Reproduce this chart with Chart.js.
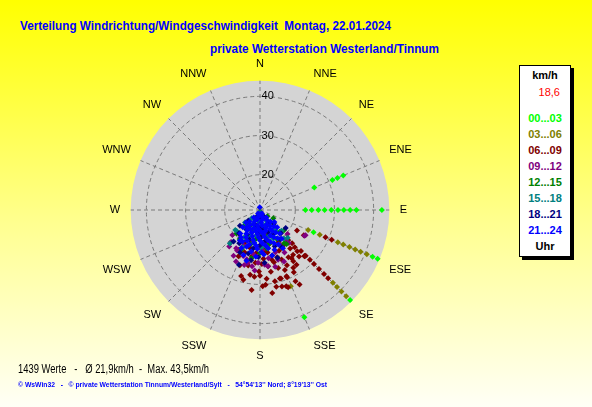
<!DOCTYPE html>
<html><head><meta charset="utf-8">
<script src="https://cdn.jsdelivr.net/npm/chart.js@4.4.1/dist/chart.umd.min.js"></script>
<style>
html,body{margin:0;padding:0;}
body{width:592px;height:407px;overflow:hidden;position:relative;background:linear-gradient(180deg,#ffff00 0%,#ffff90 55%,#fffff6 100%);font-family:'Liberation Sans',Arial,sans-serif;}
.t{position:absolute;white-space:pre;line-height:1;}
.fit{display:inline-block;transform-origin:0 0;}
#wrap{position:absolute;left:92px;top:54px;width:330px;height:312px;}
#legend{position:absolute;left:519px;top:65px;width:50px;height:190px;background:#fff;border:1px solid #000;box-shadow:3px 3px 0 #000;}
.lg{position:absolute;left:0;width:50px;text-align:center;font-weight:bold;font-size:11px;line-height:12px;white-space:pre;}
</style></head><body>
<div class="t" id="title1" style="left:20px;top:19px;font-size:13px;font-weight:bold;color:#0000ff;"><span class="fit" data-w="371">Verteilung Windrichtung/Windgeschwindigkeit  Montag, 22.01.2024</span></div>
<div class="t" id="title2" style="left:210px;top:42px;font-size:13px;font-weight:bold;color:#0000ff;"><span class="fit" data-w="229">private Wetterstation Westerland/Tinnum</span></div>
<div id="wrap"><canvas id="c"></canvas></div>
<div id="legend"></div>
<div class="t" style="left:18px;top:363px;font-size:12px;color:#000;"><span class="fit" data-w="191">1439 Werte   -   Ø 21,9km/h  -  Max. 43,5km/h</span></div>
<div class="t" style="left:18px;top:381px;font-size:8px;font-weight:bold;color:#0000ff;"><span class="fit" data-w="309">© WsWin32   -   © private Wetterstation Tinnum/Westerland/Sylt   -   54°54'13'' Nord; 8°19'13'' Ost</span></div>
<script>
// ---- data ----
const DIRECTIONS = ['N','NNE','NE','ENE','E','ESE','SE','SSE','S','SSW','SW','WSW','W','WNW','NW','NNW'];
const RMIN = 11, RMAX = 44;
const RING_TICKS = [20, 30, 40];
const UNIT = 'km/h';
const CURRENT = '18,6';
const SERIES_NAMES = ['00...03','03...06','06...09','09...12','12...15','15...18','18...21','21...24'];
const SERIES_COLORS = ['#00ff00','#808000','#800000','#800080','#008000','#008080','#000080','#0000ff'];

const DIR_00_03 = [90,90,90,90,90,90,90,90,90,90,67.5,67.5,67.5,67.5,112.5,112.5,112.5,135,157.5];
const KMH_00_03 = [22.6,24.2,25.9,27.5,29.2,30.9,32.4,34.0,35.6,42.1,26.0,31.0,32.4,34.0,25.8,42.1,43.5,43.5,40.6];

const DIR_03_06 = [112.5,112.5,112.5,112.5,112.5,112.5,112.5,112.5,135,135,135,135,158];
const KMH_03_06 = [24.3,27.5,32.5,34.0,35.7,37.3,38.8,40.5,37.3,38.8,40.4,42.1,32.0];

const DIR_06_09 = [119,120,112.5,112.5,136,137,138,135,136,135,135,135,135,135,135,
  137,146,143.5,149,156.5,147,154,151.5,163,158,153.5,161,164,146.7,146.3,136,
  193.4,184.8,181,174.5,175.7,171.6,163.8,160,158.2,157.5,162.6,171.7,166.8,178,176,188.7,168.2,180,
  165,180,195,170,155,190,185,200,160,208,205,
  150,175,205,185,165,200,192,170,150,140,178,186,168,152,196,142];
const KMH_06_09 = [21.8,23.9,29.1,30.8,22.8,24.0,25.2,25.8,27.3,27.5,29.0,30.5,32.3,34.1,35.6,
  21.5,21.8,25.2,25.1,24.8,26.6,26.7,29.1,29.3,29.5,31.3,31.6,31.3,25.7,27.8,27.4,
  29.3,28.1,26.7,28.6,30.1,32.4,29.2,32.0,29.2,27.6,26.5,25.5,24.0,24.8,23.5,27.7,29.6,27.8,
  20.0,20.5,21.0,22.0,22.5,23.0,24.5,22.5,23.8,22.5,24.0,
  20.5,21.5,20.0,22.0,24.8,26.0,25.5,27.0,28.0,26.5,30.5,31.5,31.0,32.5,28.5,23.5];

const DIR_09_12 = [222,119,131,139,193,221,196,120,209.5,
  180,160,195,170,150,205,175,160,188,212,170,150,200,182,160,210,172,188,
  165,200,215,228,140,185,220,195,175,165,205,155,185];
const KMH_09_12 = [22.0,24.3,20.3,22.2,24.9,19.1,25.6,24.1,22.9,
  18.0,18.0,19.5,19.5,21.0,21.0,21.0,22.5,22.5,22.5,23.5,23.5,23.5,24.5,24.5,24.5,25.5,25.5,
  17.0,18.0,19.5,20.5,21.5,20.5,23.2,24.0,25.0,26.0,25.5,25.5,26.5];

const DIR_12_15 = [146,122,223,144,165,195,180,130,160,212,150,175,200,138,188,165,215,142,180,
  175,150,140,190,225,165,205,150,195,130,225,170,205,190];
const KMH_12_15 = [20.1,15.0,15.6,21.5,12.0,12.0,13.5,13.5,15.5,15.5,17.0,17.0,17.0,18.5,18.5,20.0,20.0,22.0,22.0,
  11.5,13.0,15.2,15.2,16.5,18.0,18.5,19.5,20.0,19.0,19.5,21.0,22.0,23.5];

const DIR_15_18 = [231,134,134,160,200,150,185,225,172,198,230,143,188,155,210,178,140,
  170,190,140,165,205,218,160,200,228,190,135,168,205,222];
const KMH_15_18 = [19.1,15.8,18.6,12.5,12.5,14.0,14.0,14.0,16.0,16.0,16.0,17.5,17.5,19.0,19.0,20.5,20.5,
  11.8,11.8,15.0,15.0,15.0,17.0,18.0,18.0,19.0,19.5,21.0,21.0,21.5,22.5];

const DIR_18_21 = [201,125,175,205,147,197,228,160,185,214,138,170,200,222,158,190,212,165,182,205,175,
  150,190,180,135,168,232,150,178,208,145,180,198,220,150,195,160,190];
const KMH_18_21 = [26.0,19.0,13.0,13.0,15.0,15.0,15.0,17.0,17.0,17.0,19.0,19.0,19.0,19.0,21.0,21.0,21.0,23.0,23.0,23.0,24.5,
  13.0,13.0,15.5,16.0,16.0,17.5,18.0,18.0,18.0,20.0,20.0,20.5,21.5,22.0,22.5,24.0,24.0];

const DIR_21_24 = [355,150,180,210,140,165,195,220,138,155,172,188,205,222,140,152,165,178,192,206,218,
  145,158,170,183,196,210,148,162,176,190,203,215,152,168,184,200,149,175,195,213.5,
  160,195,145,175,205,130,148,162,185,198,214,228,135,150,172,186,200,212,225,
  140,153,166,180,193,207,220,143,157,171,186,197,209,160,178,192,206,165,185,200];
const KMH_21_24 = [11.7,12.0,12.0,12.0,13.5,13.5,13.5,13.5,15.0,15.0,15.0,15.0,15.0,15.0,16.5,16.5,16.5,16.5,16.5,16.5,16.5,
  18.0,18.0,18.0,18.0,18.0,18.0,19.5,19.5,19.5,19.5,19.5,19.5,21.0,21.0,21.0,21.0,22.4,22.4,24.4,20.3,
  12.8,12.8,14.2,14.2,14.2,15.8,15.8,15.8,15.8,15.8,15.8,15.8,17.2,17.2,17.2,17.2,17.2,17.2,17.2,
  18.8,18.8,18.8,18.8,18.8,18.8,18.8,20.2,20.2,20.2,20.2,20.2,20.2,21.8,21.8,21.8,21.8,23.0,23.0,23.2];

const SERIES = [[DIR_00_03,KMH_00_03],[DIR_03_06,KMH_03_06],[DIR_06_09,KMH_06_09],[DIR_09_12,KMH_09_12],
  [DIR_12_15,KMH_12_15],[DIR_15_18,KMH_15_18],[DIR_18_21,KMH_18_21],[DIR_21_24,KMH_21_24]];

// ---- text fitting ----
document.querySelectorAll('.fit').forEach(el => {
  const w = el.getBoundingClientRect().width;
  const target = +el.dataset.w;
  if (w > 0) el.style.transform = 'scaleX(' + (target / w) + ')';
});

// ---- legend box ----
const legend = document.getElementById('legend');
function addLg(text, color, cy, weight, align) {
  const d = document.createElement('div');
  d.className = 'lg';
  d.textContent = text;
  d.style.color = color;
  d.style.top = (cy - 6 - 66) + 'px';
  if (weight) d.style.fontWeight = weight;
  if (align === 'right') { d.style.textAlign = 'right'; d.style.width = '40px'; }
  legend.appendChild(d);
}
addLg(UNIT, '#000', 75);
addLg(CURRENT, '#ff0000', 92, 'normal', 'right');
SERIES_NAMES.forEach((n, i) => addLg(n, SERIES_COLORS[i], 118.3 + i * 16));
addLg('Uhr', '#000', 246);

// ---- chart ----
const FONT = "'Liberation Sans', Arial, sans-serif";
// keep the hidden x/y scales in the same units as the radial scale
const alignPolar = {
  id: 'alignPolar',
  afterLayout(chart) {
    const r = chart.scales.r, xs = chart.scales.x, ys = chart.scales.y;
    const ppu = r.drawingArea / (r.max - r.min);
    xs.min = -(r.xCenter - xs.left) / ppu; xs.max = (xs.right - r.xCenter) / ppu; xs.configure();
    ys.min = -(ys.bottom - r.yCenter) / ppu; ys.max = (r.yCenter - ys.top) / ppu; ys.configure();
  }
};

const datasets = SERIES.map(([dirs, kmh], i) => ({
  label: SERIES_NAMES[i],
  data: dirs.map((d, j) => {
    const rr = Math.max(0, kmh[j] - RMIN);
    const a = d * Math.PI / 180;
    return { x: rr * Math.sin(a), y: rr * Math.cos(a) };
  }),
  backgroundColor: SERIES_COLORS[i],
  borderWidth: 0,
  pointStyle: 'rectRot',
  pointRadius: 3,
  pointHoverRadius: 3,
  order: SERIES.length - i
}));

new Chart(document.getElementById('c'), {
  type: 'scatter',
  data: { labels: DIRECTIONS, datasets },
  options: {
    responsive: true,
    maintainAspectRatio: false,
    animation: false,
    events: [],
    layout: { padding: 0 },
    plugins: { legend: { display: false }, title: { display: false }, tooltip: { enabled: false } },
    scales: {
      x: { type: 'linear', display: false, min: -1, max: 1 },
      y: { type: 'linear', display: false, min: -1, max: 1 },
      r: {
        type: 'radialLinear',
        labels: DIRECTIONS,
        min: RMIN, max: RMAX,
        startAngle: 0,
        backgroundColor: '#d4d4d4',
        grid: { circular: true, lineWidth: 1,
          color: ctx => (ctx.tick && RING_TICKS.includes(ctx.tick.value)) ? '#7a7a7a' : 'rgba(0,0,0,0)' },
        border: { dash: [4, 3] },
        angleLines: { color: '#7a7a7a', lineWidth: 1, borderDash: [4, 3] },
        pointLabels: { color: '#000', padding: 5, font: { family: FONT, size: 11 } },
        ticks: { display: true, showLabelBackdrop: false, backdropPadding: 0, color: '#000',
          font: { family: FONT, size: 11 },
          callback: v => RING_TICKS.includes(v) ? '     ' + v : '' },
        afterBuildTicks: s => { s.ticks = [RMIN].concat(RING_TICKS).map(v => ({ value: v })); }
      }
    }
  },
  plugins: [alignPolar]
});
</script>
</body></html>
